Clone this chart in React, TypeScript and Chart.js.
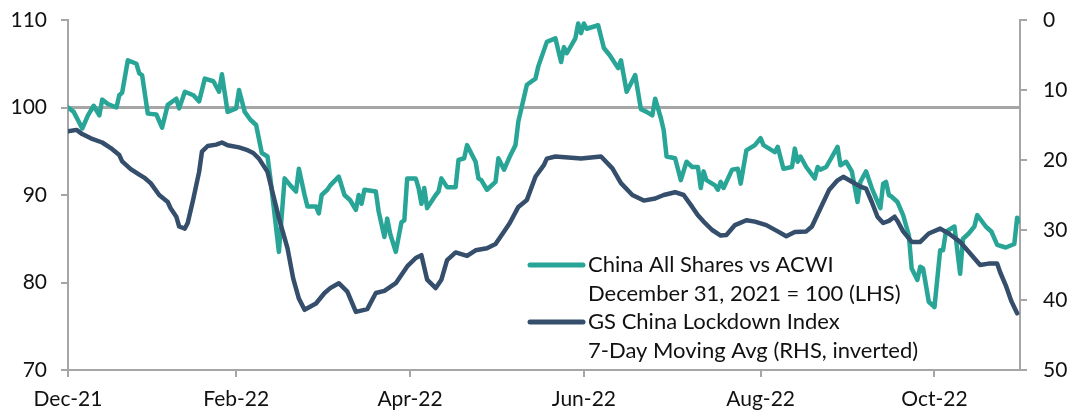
import { useEffect, useRef } from 'react';
import { Chart, registerables } from 'chart.js';

Chart.register(...registerables);

// Days since Dec 31, 2021
const chinaDays = [0,2,5,7,9,11,12,14,17,18,19,21,24,25,26,28,31,33,35,38,39,41,44,46,48,51,53,54,56,59,60,62,64,66,68,70,71,74,76,78,80,81,83,84,87,88,89,91,92,95,97,99,101,102,103,104,108,109,111,112,113,115,117,118,119,122,123,124,125,126,129,130,131,133,136,137,139,140,143,144,145,147,150,151,153,155,157,158,161,164,165,168,171,173,174,175,178,179,180,181,182,186,188,190,193,194,196,199,201,203,205,206,208,209,210,213,215,217,219,221,222,223,224,227,228,229,230,233,235,236,238,241,243,244,248,249,251,254,255,256,257,259,262,263,264,266,270,271,273,275,277,278,280,282,283,285,286,287,288,289,291,293,295,296,298,299,300,302,304,306,307,308,311,313,314,316,318,319,322,324,326,329,332,333,334];
const chinaValues = [100.0,99.5,97.6,99.1,100.2,99.1,100.9,100.4,100.0,101.4,101.7,105.4,105.0,103.9,103.7,99.3,99.2,97.7,100.3,101.0,99.9,101.8,101.4,100.7,103.3,103.0,101.8,103.8,99.5,99.9,102.0,99.5,98.6,98.0,94.8,94.4,91.9,83.5,91.9,91.1,90.4,93.0,90.0,88.7,88.7,87.9,90.0,90.6,91.1,92.1,90.0,89.4,88.3,90.0,89.0,90.6,90.4,88.1,85.2,87.3,85.6,83.5,86.9,87.1,91.9,91.9,90.8,89.0,90.8,88.5,90.0,90.4,91.9,90.9,90.9,94.0,94.2,95.7,93.8,91.9,91.7,90.6,91.5,94.2,92.9,94.4,95.7,98.4,102.6,103.3,104.7,107.5,107.9,105.2,106.9,106.2,107.9,109.6,108.5,109.6,109.0,109.4,106.8,106.0,104.5,105.4,101.8,103.7,99.8,99.5,99.1,101.0,98.8,97.4,94.4,94.2,91.7,93.8,93.2,93.2,90.8,92.7,91.7,91.1,90.6,91.5,90.8,92.9,93.0,91.3,95.1,95.7,96.5,95.7,94.9,95.5,93.0,93.2,95.3,93.8,94.4,93.2,91.9,93.2,92.9,93.2,95.5,93.4,93.8,92.7,89.2,91.5,92.7,90.8,90.0,88.5,91.3,91.5,90.0,89.8,89.2,87.7,85.4,81.6,80.3,81.8,81.6,77.8,77.2,83.7,83.7,85.8,86.4,81.0,85.0,85.6,86.4,87.7,86.4,85.8,84.3,84.0,84.4,87.4,87.0];

const lockdownDays = [0,3,5,8,12,15,18,19,22,25,27,29,32,35,36,38,39,41,42,44,46,47,49,52,54,56,60,63,65,67,70,72,74,77,79,81,83,87,90,92,95,98,101,105,108,111,115,119,122,124,126,129,131,133,136,140,143,147,150,153,155,158,161,164,167,168,171,180,187,191,194,198,202,206,209,213,216,219,221,223,226,229,231,234,238,241,245,249,252,255,259,261,264,267,270,272,275,278,280,282,284,286,288,290,291,293,296,299,302,306,309,313,316,320,323,326,327,329,331,333];
const lockdownValues = [15.9,15.7,16.3,16.9,17.5,18.3,19.3,20.2,21.3,22.1,22.6,23.3,25.0,26.0,26.9,28.1,29.5,29.8,29.0,25.5,21.7,18.8,18.0,17.8,17.5,17.9,18.2,18.6,19.0,19.8,21.7,25.0,28.3,32.6,36.9,39.8,41.4,40.5,39.0,38.3,37.6,38.8,41.7,41.3,39.0,38.7,37.6,35.2,34.0,33.6,37.1,38.3,37.1,34.3,33.2,33.7,32.9,32.6,32.0,30.2,29.0,26.7,25.7,22.4,20.7,19.8,19.5,19.8,19.5,21.2,23.3,25.0,25.8,25.5,25.0,24.6,25.0,26.7,27.9,28.8,30.0,30.8,30.7,29.3,28.6,28.8,29.3,30.2,30.9,30.3,30.2,29.5,26.9,24.3,22.9,22.4,23.1,23.8,24.1,26.0,28.1,29.0,28.7,28.1,28.7,30.2,31.7,31.7,30.5,29.8,30.5,31.7,33.1,35.0,34.8,34.8,36.0,37.9,40.2,41.9];

const xTickDays = [0, 59, 120, 181, 243, 304];
const xTickLabels = ['Dec-21', 'Feb-22', 'Apr-22', 'Jun-22', 'Aug-22', 'Oct-22'];
const referenceValue = 100;
const seriesLabels = [
  ['China All Shares vs ACWI', 'December 31, 2021 = 100 (LHS)'],
  ['GS China Lockdown Index', '7-Day Moving Avg (RHS, inverted)'],
];

const TEAL = '#28A596';
const NAVY = '#344E6B';
const GRAY = '#A6A6A6';
const FONT = 'Lato, "Open Sans", sans-serif';
const TEXT = '#111111';

const refLinePlugin = {
  id: 'refLine',
  beforeDatasetsDraw(chart: any) {
    const { ctx, chartArea, scales } = chart;
    const y = scales.y.getPixelForValue(referenceValue);
    ctx.save();
    ctx.strokeStyle = GRAY;
    ctx.lineWidth = 3;
    ctx.beginPath();
    ctx.moveTo(chartArea.left, y);
    ctx.lineTo(chartArea.right, y);
    ctx.stroke();
    ctx.restore();
  },
};

const legendPlugin = {
  id: 'customLegend',
  afterDatasetsDraw(chart: any) {
    const { ctx, chartArea } = chart;
    const x0 = chartArea.left + 462;
    const lineLen = 53;
    const textX = x0 + lineLen + 5;
    const lineH = 28.5;
    let y = chartArea.top + 245;
    ctx.save();
    ctx.font = `22px ${FONT}`;
    ctx.textBaseline = 'middle';
    ctx.textAlign = 'left';
    chart.data.datasets.forEach((ds: any, i: number) => {
      ctx.strokeStyle = ds.borderColor;
      ctx.lineWidth = 5;
      ctx.lineCap = 'round';
      ctx.beginPath();
      ctx.moveTo(x0, y);
      ctx.lineTo(x0 + lineLen, y);
      ctx.stroke();
      ctx.fillStyle = TEXT;
      seriesLabels[i].forEach((t, k) => {
        ctx.fillText(t, textX, y + k * lineH);
      });
      y += lineH * 2;
    });
    ctx.restore();
  },
};

const fitVertical = (w: number) => (s: any) => {
  s.width = w;
  s.paddingTop = 0;
  s.paddingBottom = 0;
};

export default function App() {
  const ref = useRef<HTMLCanvasElement>(null);
  useEffect(() => {
    if (!ref.current) return;
    const chart = new Chart(ref.current, {
      type: 'line',
      data: {
        datasets: [
          {
            label: seriesLabels[0].join(' '),
            data: chinaDays.map((d, i) => ({ x: d, y: chinaValues[i] })),
            borderColor: TEAL,
            backgroundColor: TEAL,
            borderWidth: 4.5,
            pointRadius: 0,
            tension: 0,
            borderJoinStyle: 'round',
            borderCapStyle: 'round',
            yAxisID: 'y',
            order: 2,
          },
          {
            label: seriesLabels[1].join(' '),
            data: lockdownDays.map((d, i) => ({ x: d, y: lockdownValues[i] })),
            borderColor: NAVY,
            backgroundColor: NAVY,
            borderWidth: 4.5,
            pointRadius: 0,
            tension: 0,
            borderJoinStyle: 'round',
            borderCapStyle: 'round',
            yAxisID: 'y2',
            order: 1,
          },
        ],
      },
      options: {
        responsive: false,
        animation: false,
        devicePixelRatio: 1,
        layout: { padding: { top: 20, left: 0, right: 0, bottom: 0 } },
        plugins: { legend: { display: false }, tooltip: { enabled: false } },
        scales: {
          x: {
            type: 'linear',
            min: 0,
            max: 334,
            afterBuildTicks: (s: any) => {
              s.ticks = xTickDays.map((v) => ({ value: v }));
            },
            afterFit: (s: any) => {
              s.height = 41;
              s.paddingLeft = 0;
              s.paddingRight = 0;
            },
            ticks: {
              autoSkip: false,
              maxRotation: 0,
              padding: 10,
              color: TEXT,
              font: { family: FONT, size: 21 },
              callback: (_v: any, i: number) => xTickLabels[i],
            },
            grid: { drawOnChartArea: false, drawTicks: true, tickLength: 7, color: GRAY, lineWidth: 2 },
            border: { color: GRAY, width: 2 },
          },
          y: {
            position: 'left',
            min: 70,
            max: 110,
            afterFit: fitVertical(68),
            ticks: { stepSize: 10, padding: 14, color: TEXT, font: { family: FONT, size: 21 } },
            grid: { drawOnChartArea: false, drawTicks: true, tickLength: 7, color: GRAY, lineWidth: 2 },
            border: { color: GRAY, width: 2 },
          },
          y2: {
            position: 'right',
            reverse: true,
            min: 0,
            max: 50,
            afterFit: fitVertical(50),
            ticks: { stepSize: 10, padding: 16, color: TEXT, font: { family: FONT, size: 21 } },
            grid: { drawOnChartArea: false, drawTicks: true, tickLength: 7, color: GRAY, lineWidth: 2 },
            border: { color: GRAY, width: 2 },
          },
        },
      },
      plugins: [refLinePlugin, legendPlugin],
    });
    return () => chart.destroy();
  }, []);
  return (
    <div style={{ position: 'fixed', left: 0, top: 0, width: 1070, height: 411, background: '#fff' }}>
      <canvas ref={ref} width={1070} height={411} style={{ display: 'block', width: 1070, height: 411 }} />
    </div>
  );
}
